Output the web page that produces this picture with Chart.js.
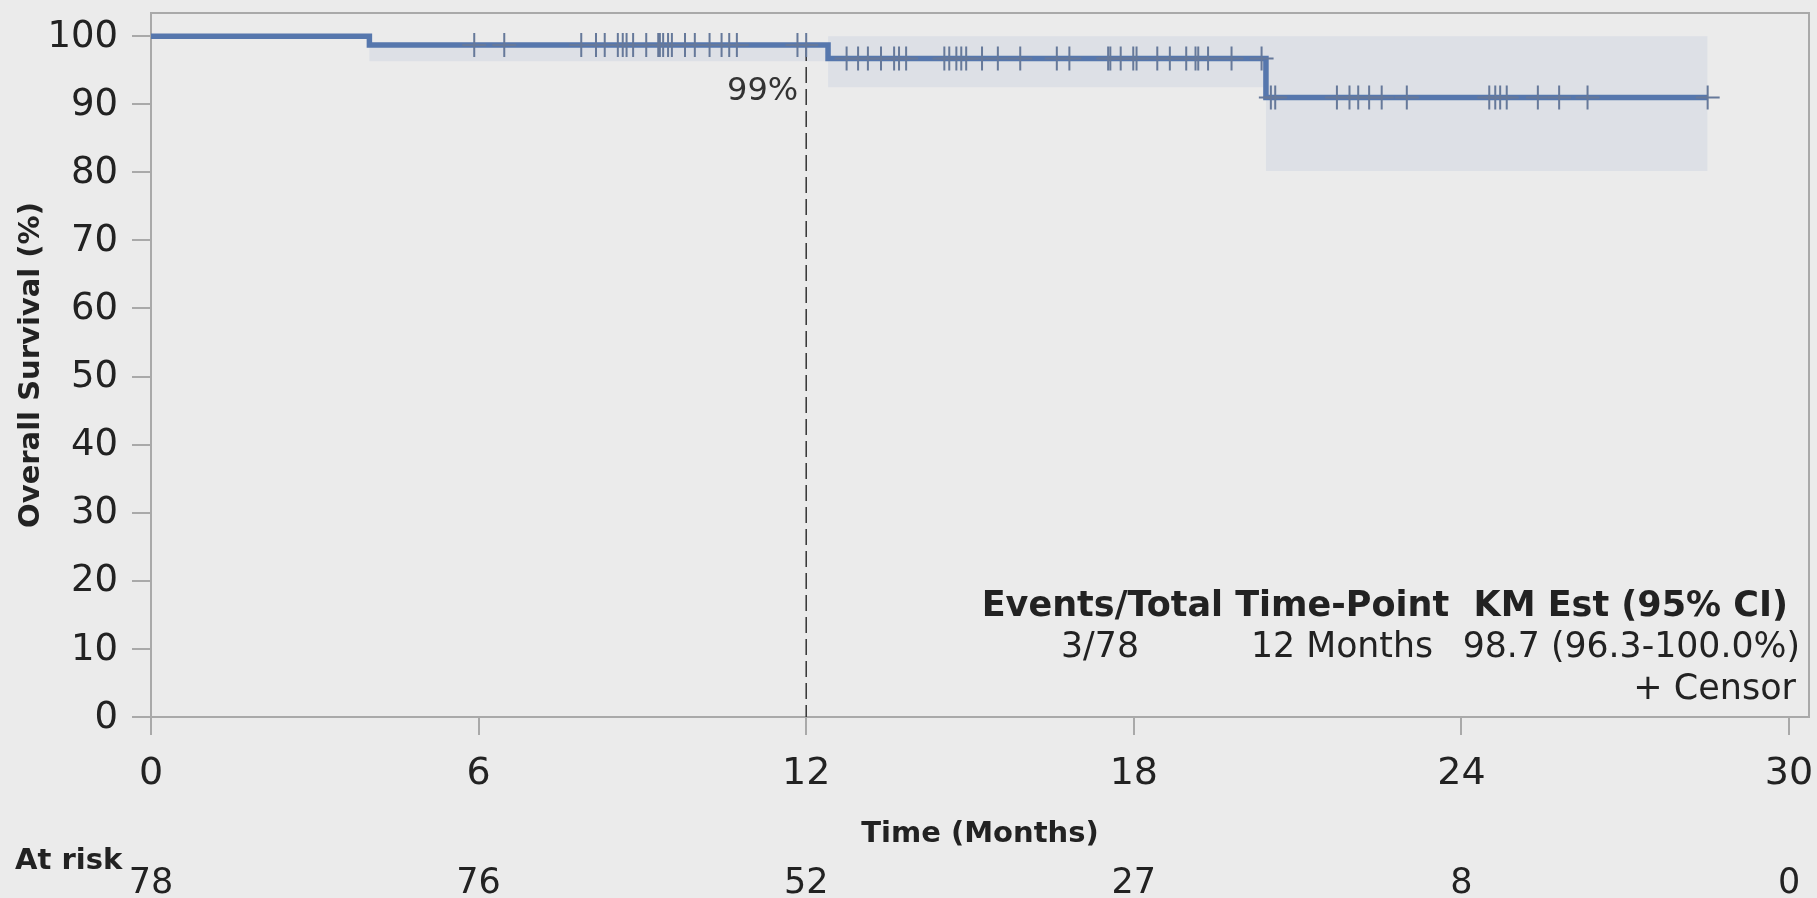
<!DOCTYPE html>
<html>
<head>
<meta charset="utf-8">
<script src="https://cdn.jsdelivr.net/npm/chart.js@4.4.1/dist/chart.umd.min.js"></script>
<style>
  html, body { margin: 0; padding: 0; background: #ebebeb; }
  canvas { display: block; }
</style>
</head>
<body>
<canvas id="km" width="1817" height="898"></canvas>
<script>
// Kaplan-Meier overall survival: step times (months) and survival (%) after each step
const stepTimes = [0, 4.0, 12.4, 20.42];
const survival = [100, 98.7, 96.7, 91.0];
// 95% confidence band, per step
const ciLower = [100, 96.3, 92.5, 80.2];
const ciUpper = [100, 98.7, 100, 100];
const lastFollowUp = 28.51;

// censored observations (months)
const censorTimes = [
  5.92, 6.47, 7.88, 8.15, 8.31, 8.55, 8.64, 8.71, 8.83, 9.07, 9.29, 9.32, 9.38,
  9.47, 9.54, 9.78, 9.96, 10.23, 10.45, 10.59, 10.73, 11.84, 12.0,
  12.74, 12.95, 13.13, 13.37, 13.61, 13.70, 13.83, 14.53, 14.62, 14.75, 14.84,
  14.93, 15.22, 15.51, 15.92, 16.59, 16.82, 17.53, 17.57, 17.76, 17.99,
  18.05, 18.43, 18.66, 18.96, 19.13, 19.18, 19.36, 19.79, 20.34,
  20.51, 20.59, 21.72, 21.95, 22.11, 22.31, 22.54, 23.0,
  24.51, 24.62, 24.71, 24.83, 25.40, 25.79, 26.31, 28.51
];

const xTickValues = [0, 6, 12, 18, 24, 30];
const yTickValues = [0, 10, 20, 30, 40, 50, 60, 70, 80, 90, 100];
const atRiskTimes = [0, 6, 12, 18, 24, 30];
const atRiskCounts = [78, 76, 52, 27, 8, 0];
const landmarkMonth = 12;

const summaryHeader = 'Events/Total Time-Point  KM Est (95% CI)';
const summaryRow = ['3/78', '12 Months', '98.7 (96.3-100.0%)'];

const FONT = '"DejaVu Sans", "Liberation Sans", sans-serif';
const AXIS_GRAY = '#a9a9a9';
const LINE_BLUE = '#5677ad';
const BAND = '#dde0e6';
const CENSOR = '#66799a';
const TEXT = '#222222';

function survivalAt(t) {
  let s = survival[0];
  for (let i = 0; i < stepTimes.length; i++) if (stepTimes[i] <= t) s = survival[i];
  return s;
}
function stepSeries(values) {
  const pts = stepTimes.map((t, i) => ({ x: t, y: values[i] }));
  pts.push({ x: lastFollowUp, y: values[values.length - 1] });
  return pts;
}

const frameAndText = {
  id: 'frameAndText',
  beforeDatasetsDraw(chart) {
    const { ctx, chartArea: a } = chart;
    ctx.save();
    ctx.strokeStyle = AXIS_GRAY;
    ctx.lineWidth = 2;
    ctx.beginPath();
    ctx.moveTo(a.left, a.top);
    ctx.lineTo(a.right, a.top);
    ctx.lineTo(a.right, a.bottom);
    ctx.stroke();
    ctx.restore();
  },
  afterDraw(chart) {
    const { ctx, chartArea: a, scales } = chart;
    const xs = scales.x, ys = scales.y;
    ctx.save();
    ctx.textBaseline = 'middle';

    // landmark label
    const lx = xs.getPixelForValue(landmarkMonth);
    const ly = ys.getPixelForValue(survivalAt(landmarkMonth));
    ctx.font = `32px ${FONT}`;
    ctx.textAlign = 'right';
    ctx.fillStyle = '#333333';
    ctx.fillText(Math.round(survivalAt(landmarkMonth)) + '%', lx - 8, ly + 47);

    // summary block
    ctx.fillStyle = TEXT;
    ctx.font = `bold 35px ${FONT}`;
    ctx.textAlign = 'right';
    ctx.fillText(summaryHeader, 1788, 607);
    ctx.font = `34.7px ${FONT}`;
    ctx.textAlign = 'center';
    ctx.fillText(summaryRow[0], 1100, 648);
    ctx.textAlign = 'right';
    ctx.fillText(summaryRow[1], 1433, 648);
    ctx.fillText(summaryRow[2], 1800, 648);
    ctx.font = `35px ${FONT}`;
    ctx.fillText('+ Censor', 1796, 690);

    // axis titles
    ctx.font = `bold 29px ${FONT}`;
    ctx.textAlign = 'center';
    ctx.fillText('Time (Months)', (a.left + a.right) / 2, 834);
    ctx.save();
    ctx.translate(31, (a.top + a.bottom) / 2);
    ctx.rotate(-Math.PI / 2);
    ctx.fillText('Overall Survival (%)', 0, 0);
    ctx.restore();

    // numbers at risk
    ctx.font = `bold 29px ${FONT}`;
    ctx.textAlign = 'left';
    ctx.fillText('At risk', 15, 861);
    ctx.font = `35px ${FONT}`;
    ctx.textAlign = 'center';
    atRiskTimes.forEach((t, i) => {
      ctx.fillText(String(atRiskCounts[i]), xs.getPixelForValue(t), 884);
    });
    ctx.restore();
  }
};

new Chart(document.getElementById('km'), {
  type: 'line',
  data: {
    datasets: [
      { data: stepSeries(ciUpper), stepped: 'before', borderWidth: 0, pointRadius: 0,
        backgroundColor: BAND, fill: '+1', order: 5 },
      { data: stepSeries(ciLower), stepped: 'before', borderWidth: 0, pointRadius: 0,
        fill: false, order: 4 },
      { data: [{ x: landmarkMonth, y: survivalAt(landmarkMonth) }, { x: landmarkMonth, y: 0 }],
        borderColor: '#333333', borderWidth: 1.5, borderDash: [16, 6], pointRadius: 0,
        fill: false, order: 3 },
      { data: stepSeries(survival), stepped: 'before', borderColor: LINE_BLUE, borderWidth: 5.5,
        pointRadius: 0, fill: false, order: 2 },
      { type: 'scatter', data: censorTimes.map(t => ({ x: t, y: survivalAt(t) })),
        pointStyle: 'cross', pointRadius: 12, pointBorderWidth: 2,
        pointBorderColor: CENSOR, borderColor: CENSOR, showLine: false, order: 1 }
    ]
  },
  options: {
    responsive: false,
    animation: false,
    devicePixelRatio: 1,
    layout: { autoPadding: false, padding: { top: 13, right: 8, bottom: 0, left: 0 } },
    plugins: { legend: { display: false }, tooltip: { enabled: false } },
    scales: {
      x: {
        type: 'linear', min: 0, max: 30.366,
        afterBuildTicks: s => { s.ticks = xTickValues.map(v => ({ value: v })); },
        afterFit: s => { s.height = 898 - 717; s.paddingLeft = 0; s.paddingRight = 0; },
        grid: { drawOnChartArea: false, drawTicks: true, tickLength: 18, color: AXIS_GRAY, lineWidth: 2 },
        border: { display: true, color: AXIS_GRAY, width: 2 },
        ticks: { color: TEXT, font: { family: FONT, size: 38, lineHeight: 2.04 }, padding: 0, maxRotation: 0 }
      },
      y: {
        type: 'linear', min: 0, max: 103.4,
        afterBuildTicks: s => { s.ticks = yTickValues.map(v => ({ value: v })); },
        afterFit: s => { s.width = 151; s.paddingTop = 0; s.paddingBottom = 0; },
        grid: { drawOnChartArea: false, drawTicks: true, tickLength: 19, color: AXIS_GRAY, lineWidth: 2 },
        border: { display: true, color: AXIS_GRAY, width: 2 },
        ticks: { color: TEXT, font: { family: FONT, size: 37 }, padding: 14, labelOffset: 1 }
      }
    }
  },
  plugins: [frameAndText]
});
</script>
</body>
</html>
